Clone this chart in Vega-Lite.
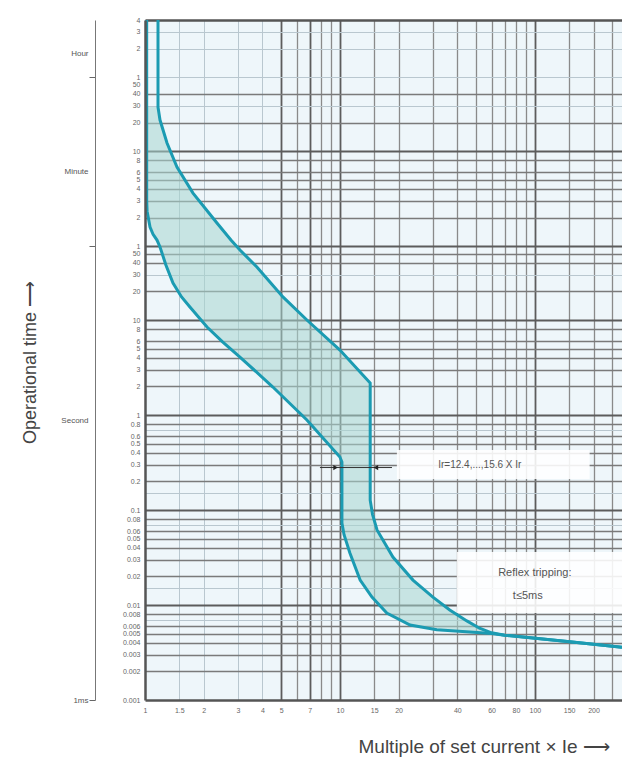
{
  "$schema": "https://vega.github.io/schema/vega-lite/v6.json",
  "width": 477,
  "height": 680,
  "autosize": "none",
  "padding": {"left": 145, "top": 20, "right": 0, "bottom": 59},
  "background": "white",
  "config": {"view": {"fill": "#eef6fa", "stroke": null}, "font": "Liberation Sans"},
  "resolve": {"axis": {"x": "independent", "y": "independent"}},
  "datasets": {
    "lower": [
      {"x": 1.02, "t": 14400}, {"x": 1.02, "t": 183}, {"x": 1.025, "t": 140}, {"x": 1.061, "t": 95.3},
      {"x": 1.1, "t": 80}, {"x": 1.152, "t": 69.5}, {"x": 1.194, "t": 58.7}, {"x": 1.28, "t": 38},
      {"x": 1.392, "t": 24.5}, {"x": 1.54, "t": 17.5}, {"x": 1.7, "t": 13.7}, {"x": 2.08, "t": 8.44},
      {"x": 2.5, "t": 5.9}, {"x": 3.07, "t": 4.08}, {"x": 4.53, "t": 1.97}, {"x": 6.77, "t": 0.886},
      {"x": 10.0, "t": 0.361}, {"x": 10.24, "t": 0.32}, {"x": 10.24, "t": 0.073}, {"x": 10.5, "t": 0.055},
      {"x": 11.25, "t": 0.0353}, {"x": 12.7, "t": 0.0183}, {"x": 14.6, "t": 0.0121}, {"x": 17.4, "t": 0.00824},
      {"x": 22.9, "t": 0.00616}, {"x": 31.4, "t": 0.0055}, {"x": 46.4, "t": 0.0052}, {"x": 60, "t": 0.005},
      {"x": 70, "t": 0.0048}, {"x": 97.7, "t": 0.0045}, {"x": 151, "t": 0.0041}, {"x": 280, "t": 0.0036}
    ],
    "upper": [
      {"x": 1.166, "t": 14400}, {"x": 1.166, "t": 1746}, {"x": 1.194, "t": 1274}, {"x": 1.297, "t": 730},
      {"x": 1.459, "t": 408}, {"x": 1.763, "t": 217}, {"x": 2.34, "t": 105}, {"x": 2.76, "t": 69.5},
      {"x": 3.07, "t": 54.6}, {"x": 3.75, "t": 36.1}, {"x": 5.1, "t": 17.5}, {"x": 6.77, "t": 10.0},
      {"x": 10.0, "t": 4.83}, {"x": 14.3, "t": 2.17}, {"x": 14.3, "t": 0.127}, {"x": 14.7, "t": 0.09},
      {"x": 15.5, "t": 0.0616}, {"x": 18.7, "t": 0.032}, {"x": 23.7, "t": 0.0183}, {"x": 30.0, "t": 0.0121},
      {"x": 36.6, "t": 0.00886}, {"x": 44.8, "t": 0.0068}, {"x": 52, "t": 0.0057}, {"x": 60, "t": 0.0051},
      {"x": 70, "t": 0.0048}, {"x": 97.7, "t": 0.0045}, {"x": 151, "t": 0.0041}, {"x": 280, "t": 0.0036}
    ],
    "band": [
      {"t": 1746, "xl": 1.02, "xu": 1.166}, {"t": 1274, "xl": 1.02, "xu": 1.194}, {"t": 730, "xl": 1.02, "xu": 1.297},
      {"t": 408, "xl": 1.02, "xu": 1.459}, {"t": 217, "xl": 1.02, "xu": 1.763}, {"t": 183, "xl": 1.02, "xu": 1.85},
      {"t": 105, "xl": 1.05, "xu": 2.34}, {"t": 69.5, "xl": 1.152, "xu": 2.76}, {"t": 54.6, "xl": 1.21, "xu": 3.07},
      {"t": 36.1, "xl": 1.27, "xu": 3.75}, {"t": 24.5, "xl": 1.392, "xu": 4.43}, {"t": 17.5, "xl": 1.53, "xu": 5.1},
      {"t": 13.7, "xl": 1.7, "xu": 5.88}, {"t": 10.0, "xl": 1.91, "xu": 6.77}, {"t": 8.44, "xl": 2.08, "xu": 7.36},
      {"t": 4.83, "xl": 2.79, "xu": 10.0}, {"t": 4.08, "xl": 3.07, "xu": 10.7}, {"t": 2.17, "xl": 4.32, "xu": 14.3},
      {"t": 1.97, "xl": 4.53, "xu": 14.3}, {"t": 0.886, "xl": 6.77, "xu": 14.3}, {"t": 0.361, "xl": 10.0, "xu": 14.3},
      {"t": 0.32, "xl": 10.24, "xu": 14.3}, {"t": 0.127, "xl": 10.24, "xu": 14.3}, {"t": 0.09, "xl": 10.24, "xu": 14.7},
      {"t": 0.073, "xl": 10.24, "xu": 15.1}, {"t": 0.0616, "xl": 10.5, "xu": 15.5}, {"t": 0.0353, "xl": 11.25, "xu": 18.0},
      {"t": 0.032, "xl": 11.5, "xu": 18.7}, {"t": 0.0183, "xl": 12.7, "xu": 23.7}, {"t": 0.0121, "xl": 14.6, "xu": 30.0},
      {"t": 0.00886, "xl": 17.0, "xu": 36.6}, {"t": 0.0068, "xl": 20.5, "xu": 44.8}, {"t": 0.0057, "xl": 27.0, "xu": 52},
      {"t": 0.0052, "xl": 46.4, "xu": 58}, {"t": 0.005, "xl": 60, "xu": 60}
    ],
    "boxes": [
      {"x1": 19.6, "x2": 191, "t1": 0.428, "t2": 0.212},
      {"x1": 39.8, "x2": 280, "t1": 0.0361, "t2": 0.00824}
    ],
    "note1": [{"x": 52.2, "t": 0.298, "label": "Ir=12.4,...,15.6 X Ir"}],
    "note2": [
      {"x": 100, "t": 0.0217, "label": "Reflex tripping:"},
      {"x": 92, "t": 0.0125, "label": "t≤5ms"}
    ],
    "arrow": [{"x1": 7.9, "x2": 18.5, "t": 0.28}],
    "heads": [{"x": 9.5, "t": 0.28, "dir": "right"}, {"x": 15.3, "t": 0.28, "dir": "left"}]
  },
  "layer": [
    {
      "data": {"name": "band"},
      "mark": {"type": "area", "orient": "horizontal", "color": "#a8d5cf", "opacity": 0.55, "clip": true},
      "encoding": {
        "y": {"field": "t", "type": "quantitative",
          "scale": {"type": "log", "domain": [0.001, 14400], "nice": false},
          "axis": {"orient": "left", "zindex": 1,
            "values": [14400, 10800, 7200, 3600, 3000, 2400, 1800, 1200, 600, 480, 360, 300, 240, 180, 120, 60, 50, 40, 30, 20, 10, 8, 6, 5, 4, 3, 2, 1, 0.8, 0.6, 0.5, 0.4, 0.3, 0.2, 0.1, 0.08, 0.06, 0.05, 0.04, 0.03, 0.02, 0.01, 0.008, 0.006, 0.005, 0.004, 0.003, 0.002, 0.001],
            "labelExpr": "datum.value >= 3600 ? '' + round(datum.value / 3600) : (datum.value >= 60 ? '' + round(datum.value / 60) : '' + datum.value)",
            "labelFontSize": 7, "labelColor": "#666", "labelPadding": 5, "labelOverlap": false, "labelFlush": false,
            "ticks": false, "grid": false, "domain": true, "domainColor": "#555", "domainWidth": 2.5,
            "title": "Operational time ⟶", "titleFontSize": 18, "titleFontWeight": "normal", "titleColor": "#444",
            "titleX": -115, "titleY": 342, "titleAngle": -90, "titleAlign": "center", "titleBaseline": "middle"}},
        "x": {"field": "xl", "type": "quantitative",
          "scale": {"type": "log", "domain": [1, 280], "nice": false},
          "axis": {"orient": "bottom", "zindex": 1,
            "values": [1, 1.5, 2, 3, 4, 5, 7, 10, 15, 20, 40, 60, 80, 100, 150, 200],
            "labelFontSize": 7, "labelColor": "#666", "labelPadding": 6, "labelOverlap": false, "labelFlush": false,
            "ticks": false, "grid": false, "domain": true, "domainColor": "#555", "domainWidth": 2.5,
            "title": "Multiple of set current × Ie ⟶", "titleFontSize": 19, "titleFontWeight": "normal", "titleColor": "#444",
            "titleX": 213, "titleY": 46, "titleAlign": "left", "titleAnchor": "start", "titleBaseline": "middle"}},
        "x2": {"field": "xu"}
      }
    },
    {
      "data": {"name": "boxes"},
      "mark": {"type": "rect", "color": "white", "opacity": 0.88, "clip": true},
      "encoding": {
        "x": {"field": "x1", "type": "quantitative",
          "scale": {"type": "log", "domain": [1, 280], "nice": false},
          "axis": {"orient": "top", "zindex": 0, "values": [1.5, 2, 3, 4], "grid": true, "gridColor": "#b9c7cf", "gridWidth": 1,
            "labels": false, "ticks": false, "domain": true, "domainColor": "#555", "domainWidth": 2.5, "title": null}},
        "x2": {"field": "x2"},
        "y": {"field": "t1", "type": "quantitative",
          "scale": {"type": "log", "domain": [0.001, 14400], "nice": false},
          "axis": {"orient": "left", "zindex": 0, "values": [10800, 7200, 3600, 1800, 30, 0.7, 0.15, 0.07, 0.015, 0.007],
            "grid": true, "gridColor": "#b9c7cf", "gridWidth": 1, "labels": false, "ticks": false, "domain": false, "title": null}},
        "y2": {"field": "t2"}
      }
    },
    {
      "data": {"name": "lower"},
      "mark": {"type": "line", "color": "#1b9bb2", "strokeWidth": 3, "clip": true},
      "encoding": {
        "x": {"field": "x", "type": "quantitative",
          "scale": {"type": "log", "domain": [1, 280], "nice": false},
          "axis": {"orient": "bottom", "zindex": 0, "values": [5, 7, 10, 100], "grid": true, "gridColor": "#5c5c5c", "gridWidth": 1.8,
            "labels": false, "ticks": false, "domain": false, "title": null}},
        "y": {"field": "t", "type": "quantitative",
          "scale": {"type": "log", "domain": [0.001, 14400], "nice": false},
          "axis": {"orient": "left", "zindex": 0, "values": [600, 60, 10, 1, 0.1, 0.01], "grid": true, "gridColor": "#5c5c5c", "gridWidth": 2,
            "labels": false, "ticks": false, "domain": false, "title": null}},
        "order": {"field": "t", "sort": "descending"}
      }
    },
    {
      "data": {"name": "upper"},
      "mark": {"type": "line", "color": "#1b9bb2", "strokeWidth": 3, "clip": true},
      "encoding": {
        "x": {"field": "x", "type": "quantitative",
          "scale": {"type": "log", "domain": [1, 280], "nice": false},
          "axis": {"orient": "bottom", "zindex": 0, "values": [6, 8, 9, 15, 20, 30, 40, 50, 60, 70, 80, 90, 150, 200, 250],
            "grid": true, "gridColor": "#8a8a8a", "gridWidth": 1.3, "labels": false, "ticks": false, "domain": false, "title": null}},
        "y": {"field": "t", "type": "quantitative",
          "scale": {"type": "log", "domain": [0.001, 14400], "nice": false},
          "axis": {"orient": "left", "zindex": 0,
            "values": [2400, 1200, 480, 360, 300, 240, 180, 120, 50, 40, 20, 8, 6, 5, 4, 3, 2, 0.8, 0.6, 0.5, 0.4, 0.3, 0.2, 0.08, 0.06, 0.05, 0.04, 0.03, 0.02, 0.008, 0.006, 0.005, 0.004, 0.003, 0.002],
            "grid": true, "gridColor": "#7a7a7a", "gridWidth": 1.5, "labels": false, "ticks": false, "domain": false, "title": null}},
        "order": {"field": "t", "sort": "descending"}
      }
    },
    {
      "data": {"name": "arrow"},
      "mark": {"type": "rule", "color": "#333", "strokeWidth": 1},
      "encoding": {
        "x": {"field": "x1", "type": "quantitative", "scale": {"type": "log", "domain": [1, 280], "nice": false}, "axis": null},
        "x2": {"field": "x2"},
        "y": {"field": "t", "type": "quantitative",
          "scale": {"type": "log", "domain": [0.001, 14400], "nice": false},
          "axis": {"orient": "left", "offset": 50, "values": [3600, 60, 0.001], "labels": false, "ticks": true, "tickSize": 6,
            "tickColor": "#666", "domain": true, "domainColor": "#777", "domainWidth": 1, "grid": false, "title": null}}
      }
    },
    {
      "data": {"name": "heads"},
      "mark": {"type": "point", "filled": true, "color": "#222", "size": 28, "opacity": 1},
      "encoding": {
        "x": {"field": "x", "type": "quantitative", "scale": {"type": "log", "domain": [1, 280], "nice": false}, "axis": null},
        "y": {"field": "t", "type": "quantitative", "scale": {"type": "log", "domain": [0.001, 14400], "nice": false}, "axis": null},
        "shape": {"field": "dir", "type": "nominal", "scale": {"domain": ["right", "left"], "range": ["triangle-right", "triangle-left"]}, "legend": null}
      }
    },
    {
      "data": {"name": "note1"},
      "mark": {"type": "text", "fontSize": 10, "color": "#555", "align": "center", "baseline": "middle"},
      "encoding": {
        "x": {"field": "x", "type": "quantitative", "scale": {"type": "log", "domain": [1, 280], "nice": false}, "axis": null},
        "y": {"field": "t", "type": "quantitative",
          "scale": {"type": "log", "domain": [0.001, 14400], "nice": false},
          "axis": {"orient": "left", "offset": 50, "values": [6460, 370, 0.886, 0.001],
            "labelExpr": "datum.value > 1000 ? 'Hour' : (datum.value > 100 ? 'Minute' : (datum.value > 0.5 ? 'Second' : '1ms'))",
            "labelFontSize": 8, "labelColor": "#555", "labelPadding": 7, "labelOverlap": false, "labelFlush": false,
            "ticks": false, "domain": false, "grid": false, "title": null}},
        "text": {"field": "label"}
      }
    },
    {
      "data": {"name": "note2"},
      "mark": {"type": "text", "fontSize": 11, "color": "#555", "align": "center", "baseline": "middle"},
      "encoding": {
        "x": {"field": "x", "type": "quantitative", "scale": {"type": "log", "domain": [1, 280], "nice": false}, "axis": null},
        "y": {"field": "t", "type": "quantitative", "scale": {"type": "log", "domain": [0.001, 14400], "nice": false}, "axis": null},
        "text": {"field": "label"}
      }
    }
  ]
}
